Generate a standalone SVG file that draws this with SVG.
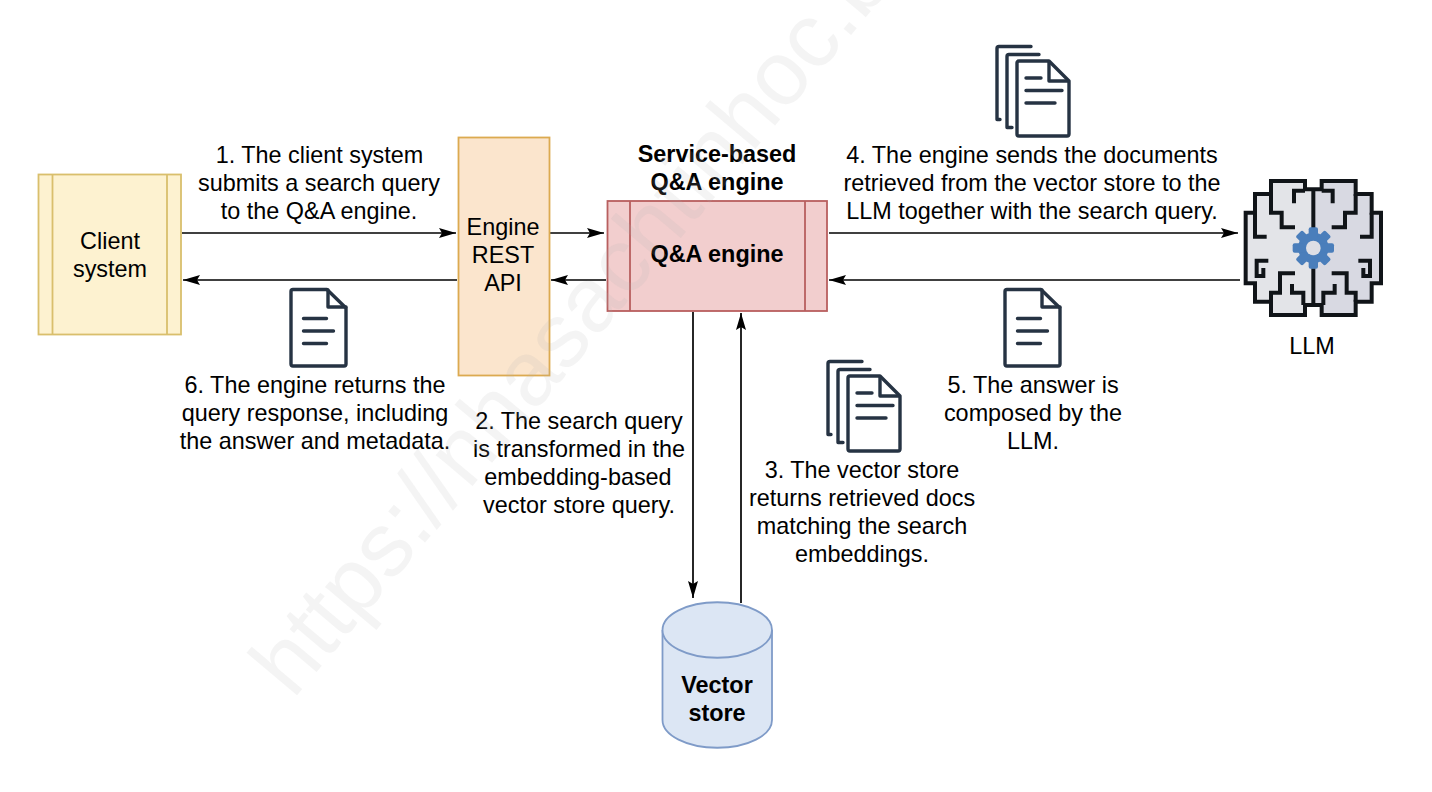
<svg xmlns="http://www.w3.org/2000/svg" xmlns:xlink="http://www.w3.org/1999/xlink" width="1432" height="792" viewBox="0 0 1432 792">
<style>
text{font-family:"Liberation Sans",Arial,sans-serif;font-size:23.4px;fill:#000;text-anchor:middle}
.b{font-weight:bold}
.wm{font-size:91px;fill:#b4b4b4;fill-opacity:.14;text-anchor:start}
.c{fill:none;stroke:#000;stroke-width:1.7}
.d{fill:none;stroke:#263343;stroke-width:3.4;stroke-linejoin:round;stroke-linecap:round}
.yl{fill:#fdf2d0;stroke:#d9bf6c;stroke-width:1.8}
.or{fill:#fbe5cd;stroke:#dcaa50;stroke-width:1.8}
.rd{fill:#f2cece;stroke:#b85f5f;stroke-width:1.8}
.bl{fill:#dce6f4;stroke:#7f9bc8;stroke-width:1.8}
.br{fill:none;stroke:#101418;stroke-width:12;stroke-linejoin:miter}
</style>
<defs>
<marker id="ah" markerUnits="userSpaceOnUse" markerWidth="18" markerHeight="12" refX="17" refY="6" orient="auto"><path d="M0 1L17 6L0 11L3 6Z" fill="#000"/></marker>
<g id="doc"><path class="d" d="M291 291.500a2 2 0 0 1 2-2h34l19 18.500v56a2 2 0 0 1-2 2h-51a2 2 0 0 1-2-2Z"/><path class="d" d="M328 290v17h18M303.500 318.500h23M303.500 331h30M303.500 343.500h23"/></g>
<g id="stack"><path class="d" d="M1031 46.500h-32a2 2 0 0 0-2 2v71h3M1039 54.500h-30a2 2 0 0 0-2 2v71h5"/><path class="d" d="M1017 63a2 2 0 0 1 2-2h30l20 20v53a2 2 0 0 1-2 2h-48a2 2 0 0 1-2-2Z"/><path class="d" d="M1049 62v19h19M1026 78h15M1026 90.500h36M1026 103h29"/></g>
</defs>
<g id="connectors">
<path class="c" marker-end="url(#ah)" d="M182 233H456"/>
<path class="c" marker-end="url(#ah)" d="M550 233H604"/>
<path class="c" marker-end="url(#ah)" d="M829 233H1238"/>
<path class="c" marker-end="url(#ah)" d="M1240 280H829"/>
<path class="c" marker-end="url(#ah)" d="M606 280H551"/>
<path class="c" marker-end="url(#ah)" d="M457 280H183"/>
<path class="c" marker-end="url(#ah)" d="M693 312V598"/>
<path class="c" marker-end="url(#ah)" d="M741 603V313"/>
</g>
<g id="client"><rect class="yl" x="38.500" y="174.500" width="142.500" height="160"/><path class="yl" d="M52.500 174.500V334.500M167 174.500V334.500"/><text x="110" y="249">Client</text><text x="110" y="277">system</text></g>
<g id="rest-api"><rect class="or" x="458.500" y="137.500" width="91" height="238"/><text x="503" y="235">Engine</text><text x="503" y="263">REST</text><text x="503" y="291">API</text></g>
<g id="qa-engine"><rect class="rd" x="607.500" y="201" width="219.500" height="110"/><path class="rd" d="M630 201V311M805 201V311"/><text class="b" x="717" y="262">Q&amp;A engine</text></g>
<g id="service-label"><text class="b" x="717" y="162">Service-based</text><text class="b" x="717" y="190">Q&amp;A engine</text></g>
<g id="vector-store"><path class="bl" d="M662.500 630V720A54.700 27.700 0 0 0 772 720V630A54.700 27.700 0 0 0 662.500 630Z"/><path class="bl" d="M662.500 630A54.700 27.700 0 0 0 772 630"/><text class="b" x="717" y="693">Vector</text><text class="b" x="717" y="721">store</text></g>
<g id="llm"><g transform="translate(1230 170) scale(.33333)">
<path fill="#e3e4e8" d="M250 58H225V33H123V72H75V128H47V340H75V395H123V435H225V405H250Z"/>
<path fill="#d8d9e2" d="M250 58H275V33H377V72H425V128H453V340H425V395H377V435H275V405H250Z"/>
<path class="br" d="M250 58H225V33H123V72H75V128H47V340H75V395H123V435H225V405H250H275V435H377V395H425V340H453V128H425V72H377V33H275V58H250V180M250 295V405"/>
<path class="br" d="M192 100V62H225M123 72V128H155V172H195M75 128V200H110M115 272H80V318H100V294M195 310H150V368H123V395M186 342V368H220V405"/>
<path class="br" d="M308 100V62H275M377 72V128H345V172H305M425 128V200H390M385 272H420V318H400V294M305 310H350V368H377V395M314 342V368H280V405"/>
<g fill="#4a7ebb"><circle cx="250" cy="234" r="46"/>
<rect x="236" y="172" width="28" height="124" rx="6"/><rect x="236" y="172" width="28" height="124" rx="6" transform="rotate(45 250 234)"/><rect x="236" y="172" width="28" height="124" rx="6" transform="rotate(90 250 234)"/><rect x="236" y="172" width="28" height="124" rx="6" transform="rotate(135 250 234)"/></g>
<circle cx="250" cy="234" r="22" fill="#dedfe5"/>
</g><text x="1312" y="353.500">LLM</text></g>
<g id="doc-response"><use href="#doc"/></g>
<g id="doc-answer"><use href="#doc" transform="translate(714 0)"/></g>
<g id="docs-to-llm"><use href="#stack"/></g>
<g id="docs-retrieved"><use href="#stack" transform="translate(-169 315)"/></g>
<g id="labels">
<text x="319.500" y="163">1. The client system</text><text x="319" y="191">submits a search query</text><text x="319" y="218.500">to the Q&amp;A engine.</text>
<text x="579" y="429">2. The search query</text><text x="579" y="457">is transformed in the</text><text x="578" y="485">embedding-based</text><text x="579" y="513">vector store query.</text>
<text x="862" y="478">3. The vector store</text><text x="862" y="506">returns retrieved docs</text><text x="862" y="534">matching the search</text><text x="862" y="562">embeddings.</text>
<text x="1032" y="163">4. The engine sends the documents</text><text x="1032" y="191">retrieved from the vector store to the</text><text x="1032" y="218.500">LLM together with the search query.</text>
<text x="1033" y="393">5. The answer is</text><text x="1033" y="421">composed by the</text><text x="1033" y="449">LLM.</text>
<text x="315" y="393">6. The engine returns the</text><text x="315" y="421">query response, including</text><text x="315" y="449">the answer and metadata.</text>
</g>
<text class="wm" transform="translate(293 700) rotate(-50)">https://nhasachtinhoc.b</text>
</svg>
